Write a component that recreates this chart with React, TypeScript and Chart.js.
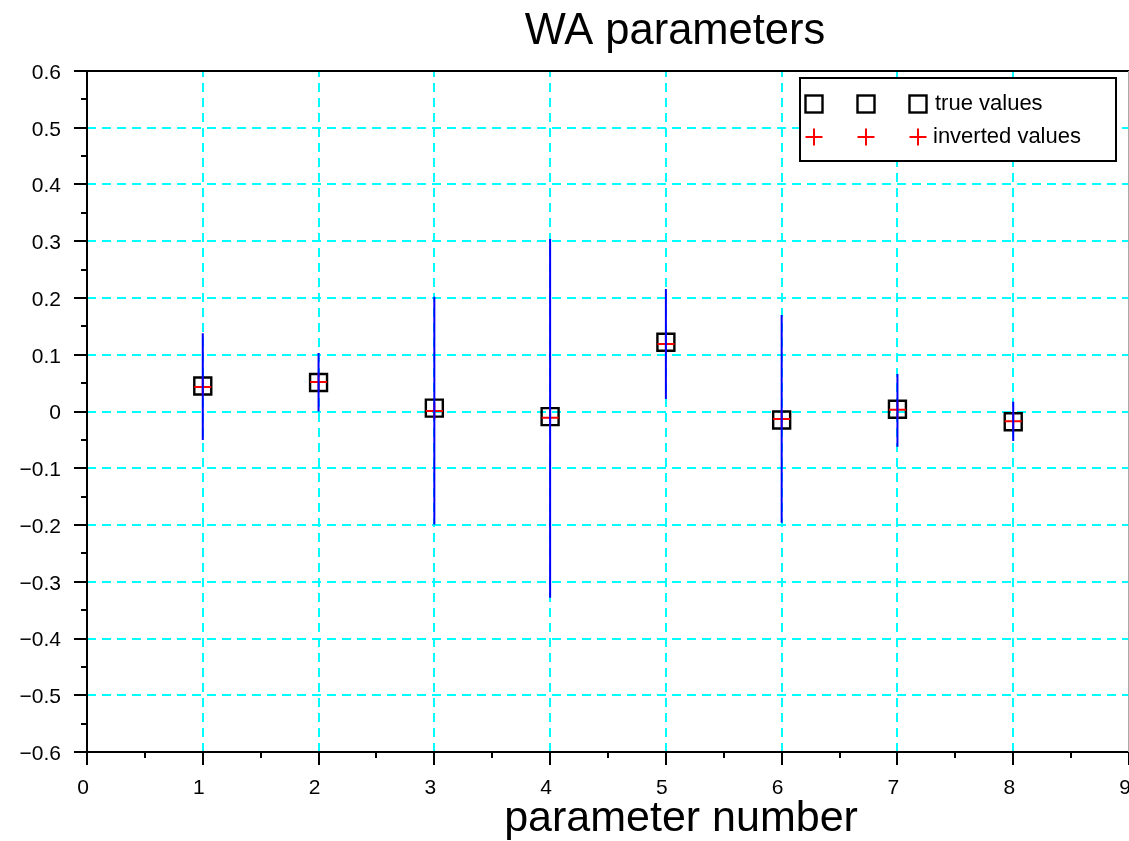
import React, { useEffect, useRef } from "react";
import { Chart, registerables } from "chart.js";

Chart.register(...registerables);

// ---- data ----
const paramNumbers = [1, 2, 3, 4, 5, 6, 7, 8];
const trueValues = [0.045, 0.051, 0.006, -0.009, 0.122, -0.015, 0.004, -0.018];
const invertedValues = [0.043, 0.052, 0.001, -0.011, 0.119, -0.013, 0.003, -0.017];
const errLow = [-0.05, 0.0, -0.199, -0.328, 0.022, -0.196, -0.062, -0.052];
const errHigh = [0.138, 0.103, 0.202, 0.304, 0.216, 0.17, 0.066, 0.017];
const xTicks = [0, 1, 2, 3, 4, 5, 6, 7, 8, 9];
const yTicks = [-0.6, -0.5, -0.4, -0.3, -0.2, -0.1, 0, 0.1, 0.2, 0.3, 0.4, 0.5, 0.6];
const legendLabels = ["true values", "inverted values"];
const chartTitle = "WA parameters";
const xAxisTitle = "parameter number";

const FONT = '"Liberation Sans", Arial, Helvetica, sans-serif';
const CYAN = "#00ffff";

function fmtY(v: number): string {
  if (Math.abs(v) < 1e-9) return "0";
  const s = Math.abs(v).toFixed(1);
  return v < 0 ? "\u2212" + s : s;
}
function fmtX(v: number): string {
  return String(Math.round(v));
}

function drawSquare(ctx: CanvasRenderingContext2D, x: number, y: number) {
  ctx.save();
  ctx.strokeStyle = "#000";
  ctx.lineWidth = 2.4;
  ctx.strokeRect(x - 8.5, y - 8.5, 17, 17);
  ctx.restore();
}
function drawPlus(ctx: CanvasRenderingContext2D, x: number, y: number) {
  ctx.save();
  ctx.strokeStyle = "#ff0000";
  ctx.lineWidth = 2;
  ctx.beginPath();
  ctx.moveTo(x - 8.5, y);
  ctx.lineTo(x + 8.5, y);
  ctx.moveTo(x, y - 8.5);
  ctx.lineTo(x, y + 8.5);
  ctx.stroke();
  ctx.restore();
}

const framePlugin = {
  id: "scilabFrame",
  beforeDatasetsDraw(chart: any) {
    const ctx: CanvasRenderingContext2D = chart.ctx;
    const { left, right, top, bottom } = chart.chartArea;
    const xs = chart.scales.x;
    const ys = chart.scales.y;
    ctx.save();
    // grid
    ctx.strokeStyle = CYAN;
    ctx.lineWidth = 2;
    ctx.setLineDash([9, 6]);
    for (const v of xTicks) {
      if (v === xTicks[0] || v === xTicks[xTicks.length - 1]) continue;
      const px = Math.round(xs.getPixelForValue(v));
      ctx.beginPath();
      ctx.moveTo(px, bottom);
      ctx.lineTo(px, top);
      ctx.stroke();
    }
    for (const v of yTicks) {
      if (v === yTicks[0] || v === yTicks[yTicks.length - 1]) continue;
      const py = Math.round(ys.getPixelForValue(v));
      ctx.beginPath();
      ctx.moveTo(left, py);
      ctx.lineTo(right, py);
      ctx.stroke();
    }
    ctx.setLineDash([]);
    // axes frame
    ctx.strokeStyle = "#000";
    ctx.lineWidth = 2;
    ctx.beginPath();
    ctx.moveTo(left, top);
    ctx.lineTo(right, top);
    ctx.moveTo(left, top);
    ctx.lineTo(left, bottom);
    ctx.lineTo(right, bottom);
    ctx.stroke();
    ctx.strokeStyle = "#aaa";
    ctx.lineWidth = 1;
    ctx.beginPath();
    ctx.moveTo(right - 0.5, top);
    ctx.lineTo(right - 0.5, bottom);
    ctx.stroke();
    // ticks
    ctx.strokeStyle = "#000";
    ctx.lineWidth = 2;
    ctx.beginPath();
    for (let i = 0; i < yTicks.length; i++) {
      const py = Math.round(ys.getPixelForValue(yTicks[i]));
      ctx.moveTo(left - 13, py);
      ctx.lineTo(left, py);
      if (i < yTicks.length - 1) {
        const pm = Math.round(ys.getPixelForValue((yTicks[i] + yTicks[i + 1]) / 2));
        ctx.moveTo(left - 6, pm);
        ctx.lineTo(left, pm);
      }
    }
    for (let i = 0; i < xTicks.length; i++) {
      const px = Math.round(xs.getPixelForValue(xTicks[i]));
      ctx.moveTo(px, bottom);
      ctx.lineTo(px, bottom + 13);
      if (i < xTicks.length - 1) {
        const pm = Math.round(xs.getPixelForValue((xTicks[i] + xTicks[i + 1]) / 2));
        ctx.moveTo(pm, bottom);
        ctx.lineTo(pm, bottom + 6);
      }
    }
    ctx.stroke();
    // tick labels
    ctx.fillStyle = "#000";
    ctx.font = "21px " + FONT;
    ctx.textAlign = "right";
    ctx.textBaseline = "middle";
    for (const v of yTicks) {
      const py = ys.getPixelForValue(v);
      ctx.fillText(fmtY(v), left - 26, py + 2);
    }
    ctx.textAlign = "center";
    for (const v of xTicks) {
      const px = xs.getPixelForValue(v);
      ctx.fillText(fmtX(v), px - 4, bottom + 36);
    }
    ctx.restore();
  },
  afterDraw(chart: any) {
    const ctx: CanvasRenderingContext2D = chart.ctx;
    const { left, right, top, bottom } = chart.chartArea;
    ctx.save();
    // titles
    ctx.fillStyle = "#000";
    ctx.textAlign = "center";
    ctx.textBaseline = "alphabetic";
    ctx.font = "43.5px " + FONT;
    ctx.fillText(chartTitle, left + 588, top - 27);
    ctx.font = "43px " + FONT;
    ctx.fillText(xAxisTitle, left + 594, bottom + 79);
    // legend
    const bx = right - 329;
    const by = top + 7;
    const bw = 316;
    const bh = 83;
    ctx.fillStyle = "#fff";
    ctx.fillRect(bx, by, bw, bh);
    ctx.strokeStyle = "#000";
    ctx.lineWidth = 2;
    ctx.strokeRect(bx, by, bw, bh);
    const rows = [by + 26, by + 59];
    const mx = [bx + 14, bx + 66, bx + 118];
    for (const m of mx) {
      drawSquare(ctx, m, rows[0]);
      drawPlus(ctx, m, rows[1]);
    }
    ctx.fillStyle = "#000";
    ctx.font = "22px " + FONT;
    ctx.textAlign = "left";
    ctx.textBaseline = "middle";
    ctx.fillText(legendLabels[0], bx + 135, rows[0]);
    ctx.fillText(legendLabels[1], bx + 133, rows[1]);
    ctx.restore();
  },
};

export default function App() {
  const canvasRef = useRef<HTMLCanvasElement | null>(null);

  useEffect(() => {
    const canvas = canvasRef.current;
    if (!canvas) return;
    const errData: any[] = [];
    paramNumbers.forEach((p, i) => {
      errData.push({ x: p, y: errLow[i] });
      errData.push({ x: p, y: errHigh[i] });
      errData.push({ x: p, y: null });
    });
    const chart = new Chart(canvas, {
      type: "scatter",
      data: {
        datasets: [
          {
            label: "error",
            data: errData,
            showLine: true,
            spanGaps: false,
            borderColor: "#0000ff",
            borderWidth: 2,
            pointRadius: 0,
            order: 0,
          } as any,
          {
            label: legendLabels[1],
            data: paramNumbers.map((p, i) => ({ x: p, y: invertedValues[i] })),
            pointStyle: "cross",
            pointRadius: 8.5,
            borderColor: "#ff0000",
            borderWidth: 2,
            order: 1,
          } as any,
          {
            label: legendLabels[0],
            data: paramNumbers.map((p, i) => ({ x: p, y: trueValues[i] })),
            pointStyle: "rect",
            pointRadius: 12,
            borderColor: "#000000",
            backgroundColor: "rgba(0,0,0,0)",
            borderWidth: 2.4,
            order: 2,
          } as any,
        ],
      },
      options: {
        animation: false,
        responsive: false,
        maintainAspectRatio: false,
        events: [],
        layout: { autoPadding: false, padding: { left: 87, top: 71, right: 0, bottom: 89 } },
        plugins: {
          legend: { display: false },
          title: { display: false },
          tooltip: { enabled: false },
        },
        scales: {
          x: { type: "linear", min: 0, max: 9, display: false },
          y: { type: "linear", min: -0.6, max: 0.6, display: false },
        },
      },
      plugins: [framePlugin as any],
    });
    return () => chart.destroy();
  }, []);

  return (
    <div style={{ position: "fixed", left: 0, top: 0, width: 1129, height: 841, background: "#fff" }}>
      <canvas ref={canvasRef} width={1129} height={841} style={{ display: "block" }} />
    </div>
  );
}
